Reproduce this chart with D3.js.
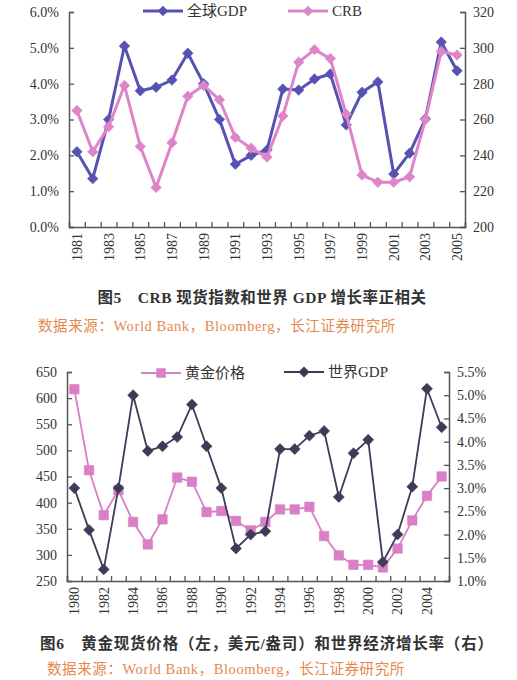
<!DOCTYPE html>
<html>
<head>
<meta charset="utf-8">
<script src="https://cdn.jsdelivr.net/npm/d3@7"></script>
<style>
  body { margin: 0; background: #fff; }
  svg text { font-family: "Liberation Serif", "Noto Sans CJK SC", serif; }
</style>
</head>
<body>
<div id="chart"></div>
<script>
// Figure 5 data
const years5 = d3.range(1981, 2006);
const gdp5 = [2.1, 1.35, 3.0, 5.05, 3.8, 3.9, 4.1, 4.85, 4.0, 3.0, 1.75, 2.0, 2.15, 3.85, 3.82, 4.13, 4.27, 2.85, 3.76, 4.05, 1.48, 2.06, 3.02, 5.16, 4.36];
const crb5 = [265, 242, 256, 279, 245, 222, 247, 273, 279, 271, 250, 244, 239, 262, 292, 299, 294, 263, 229, 225, 225, 228, 260, 298, 296];
const leftTicks5 = [0, 1, 2, 3, 4, 5, 6];
const rightTicks5 = [200, 220, 240, 260, 280, 300, 320];

// Figure 6 data
const years6 = d3.range(1980, 2006);
const gold6 = [617, 462, 376, 424, 363, 320, 368, 448, 440, 382, 384, 365, 347, 363, 387, 387, 392, 336, 299, 281, 281, 276, 312, 366, 413, 450];
const gdp6 = [3.0, 2.1, 1.25, 3.0, 5.0, 3.8, 3.9, 4.1, 4.8, 3.9, 3.0, 1.7, 2.0, 2.07, 3.84, 3.84, 4.13, 4.23, 2.81, 3.75, 4.04, 1.41, 2.0, 3.03, 5.14, 4.31];
const leftTicks6 = [250, 300, 350, 400, 450, 500, 550, 600, 650];
const rightTicks6 = [1.0, 1.5, 2.0, 2.5, 3.0, 3.5, 4.0, 4.5, 5.0, 5.5];

const svg = d3.select("#chart").append("svg")
    .attr("width", 517)
    .attr("height", 680);

const axisColor = "#555";
const captionFont = "'Liberation Serif', 'Noto Sans CJK SC', serif";

function styleAxis(g) {
    g.select(".domain").attr("stroke", axisColor).attr("stroke-width", 1.5);
    g.selectAll(".tick line").attr("stroke", axisColor).attr("stroke-width", 1.3);
    g.selectAll(".tick text").attr("fill", "#333").style("font-size", "14px");
}

// diamond = square turned 45 degrees, or a plain square
function marker(kind, size) {
    return d3.symbol().type(d3.symbolSquare).size(size)();
}

function drawChart(opt) {
    const x = d3.scaleBand().domain(opt.years).range([opt.left, opt.right]);
    const xi = d3.scaleLinear().domain([0, opt.years.length]).range([opt.left, opt.right]);
    const yL = d3.scaleLinear().domain(opt.leftDomain).range([opt.bottom, opt.top]);
    const yR = d3.scaleLinear().domain(opt.rightDomain).range([opt.bottom, opt.top]);
    const cx = d => x(d) + x.bandwidth() / 2;

    // boundary ticks on x axis
    svg.append("g")
        .attr("transform", `translate(0,${opt.bottom})`)
        .call(d3.axisTop(xi).tickValues(d3.range(0, opt.years.length + 1)).tickSize(5).tickFormat(""))
        .call(styleAxis);

    // year labels
    const lab = svg.append("g")
        .attr("transform", `translate(0,${opt.bottom})`)
        .call(d3.axisBottom(x).tickValues(opt.labelYears).tickSize(0).tickFormat(d3.format("d")))
        .call(styleAxis);
    lab.select(".domain").remove();
    lab.selectAll(".tick text")
        .attr("transform", "rotate(-90)")
        .attr("x", -6)
        .attr("y", 0)
        .attr("dy", "0.35em")
        .attr("text-anchor", "end");

    svg.append("g")
        .attr("transform", `translate(${opt.left},0)`)
        .call(d3.axisRight(yL).tickValues(opt.leftTicks).tickSize(5).tickFormat(opt.leftFormat))
        .call(styleAxis)
        .selectAll(".tick text")
        .attr("x", -10)
        .attr("text-anchor", "end");

    svg.append("g")
        .attr("transform", `translate(${opt.right},0)`)
        .call(d3.axisLeft(yR).tickValues(opt.rightTicks).tickSize(5).tickFormat(opt.rightFormat))
        .call(styleAxis)
        .selectAll(".tick text")
        .attr("x", 8)
        .attr("text-anchor", "start");

    opt.series.forEach(s => {
        const y = s.axis === "left" ? yL : yR;
        const rot = s.symbol === "diamond" ? " rotate(45)" : "";
        const line = d3.line().x((d, i) => cx(opt.years[i])).y(d => y(d));
        svg.append("path")
            .datum(s.values)
            .attr("fill", "none")
            .attr("stroke", s.color)
            .attr("stroke-width", s.width)
            .attr("stroke-linejoin", "round")
            .attr("d", line);
        svg.append("g")
            .selectAll("path")
            .data(s.values)
            .join("path")
            .attr("transform", (d, i) => `translate(${cx(opt.years[i])},${y(d)})${rot}`)
            .attr("d", marker(s.symbol, s.symbolSize))
            .attr("fill", s.color)
            .attr("stroke", s.color)
            .attr("stroke-width", 0.6);

        // legend
        const lg = svg.append("g").attr("transform", `translate(${s.legend[0]},${s.legend[1]})`);
        lg.append("line").attr("x1", 0).attr("x2", 40).attr("stroke", s.color).attr("stroke-width", s.width);
        lg.append("path").attr("transform", `translate(20,0)${rot}`)
            .attr("d", marker(s.symbol, s.symbolSize)).attr("fill", s.color);
        lg.append("text").attr("x", 44).attr("dy", "0.35em")
            .style("font-size", "15px").attr("fill", "#333").text(s.name);
    });
}

drawChart({
    years: years5,
    labelYears: years5.filter(d => d % 2 === 1),
    left: 69, right: 465, top: 12, bottom: 227,
    leftDomain: [0, 6], rightDomain: [200, 320],
    leftTicks: leftTicks5, rightTicks: rightTicks5,
    leftFormat: d => d.toFixed(1) + "%", rightFormat: d3.format("d"),
    series: [
        { name: "全球GDP", values: gdp5, axis: "left", color: "#5552b4", width: 3, symbol: "diamond", symbolSize: 55, legend: [143, 11] },
        { name: "CRB", values: crb5, axis: "right", color: "#dd85c8", width: 3, symbol: "diamond", symbolSize: 55, legend: [288, 11] }
    ]
});

drawChart({
    years: years6,
    labelYears: years6.filter(d => d % 2 === 0 && d <= 2004),
    left: 67, right: 449, top: 372, bottom: 581,
    leftDomain: [250, 650], rightDomain: [1.0, 5.5],
    leftTicks: leftTicks6, rightTicks: rightTicks6,
    leftFormat: d3.format("d"), rightFormat: d => d.toFixed(1) + "%",
    series: [
        { name: "黄金价格", values: gold6, axis: "left", color: "#d97fc6", width: 1.8, symbol: "square", symbolSize: 90, legend: [141, 373] },
        { name: "世界GDP", values: gdp6, axis: "right", color: "#3c3c58", width: 1.8, symbol: "diamond", symbolSize: 60, legend: [284, 372] }
    ]
});

// captions
svg.append("text")
    .attr("x", 262).attr("y", 303)
    .attr("text-anchor", "middle")
    .style("font-family", captionFont).style("font-size", "15.5px").style("font-weight", "bold")
    .style("letter-spacing", "0.5px")
    .attr("fill", "#333")
    .text("图5　CRB 现货指数和世界 GDP 增长率正相关");

svg.append("text")
    .attr("x", 38).attr("y", 331)
    .style("font-family", captionFont).style("font-size", "14.5px")
    .style("letter-spacing", "0.6px")
    .attr("fill", "#e5884e")
    .text("数据来源：World Bank，Bloomberg，长江证券研究所");

svg.append("text")
    .attr("x", 40).attr("y", 649)
    .style("font-family", captionFont).style("font-size", "15.5px").style("font-weight", "bold")
    .style("letter-spacing", "0.8px")
    .attr("fill", "#333")
    .text("图6　黄金现货价格（左，美元/盎司）和世界经济增长率（右）");

svg.append("text")
    .attr("x", 47).attr("y", 674)
    .style("font-family", captionFont).style("font-size", "14.5px")
    .style("letter-spacing", "0.6px")
    .attr("fill", "#e5884e")
    .text("数据来源：World Bank，Bloomberg，长江证券研究所");
</script>
</body>
</html>
